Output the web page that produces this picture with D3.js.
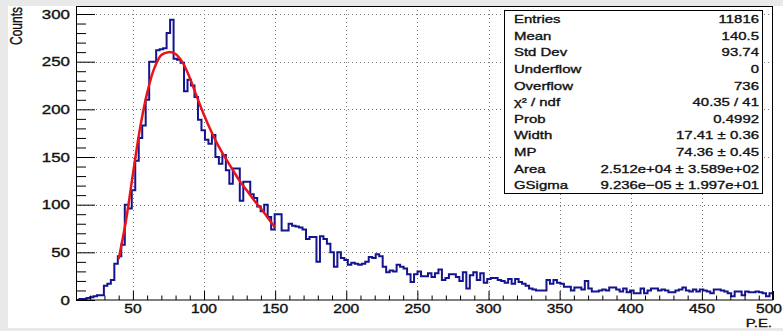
<!DOCTYPE html>
<html>
<head>
<meta charset="utf-8">
<script src="https://cdn.jsdelivr.net/npm/d3@7"></script>
<style>
body { margin: 0; background: #e9e9e9; }
svg { display: block; font-family: "Liberation Sans", Arial, sans-serif; }
</style>
</head>
<body>
<div id="chart"></div>
<script>
// histogram: 200 bins between 10 and 500 P.E.
var histMin = 10;
var histMax = 500;
var counts = [
    0, 1, 1, 2, 3, 4, 5, 5, 15, 17,
    21, 38, 46, 58, 100, 96, 115, 146, 170, 183,
    210, 250, 250, 262, 263, 264, 280, 294, 253, 252,
    249, 219, 231, 225, 213, 189, 178, 168, 164, 173,
    150, 143, 152, 136, 122, 138, 138, 104, 124, 124,
    111, 107, 98, 93, 100, 87, 74, 90, 90, 73,
    73, 80, 78, 77, 76, 74, 64, 66, 66, 40,
    67, 64, 59, 50, 35, 50, 44, 42, 37, 39,
    38, 37, 38, 40, 45, 44, 48, 46, 35, 29,
    31, 30, 37, 35, 33, 27, 19, 27, 30, 25,
    25, 28, 24, 28, 32, 21, 23, 27, 27, 24,
    20, 29, 12, 26, 29, 21, 28, 18, 22, 23,
    23, 21, 20, 18, 22, 17, 22, 19, 17, 15,
    12, 11, 10, 10, 10, 21, 17, 21, 18, 17,
    14, 14, 10, 13, 13, 11, 20, 12, 9, 9,
    10, 11, 10, 13, 13, 11, 9, 12, 8, 10,
    7, 7, 12, 7, 10, 12, 12, 10, 11, 10,
    8, 8, 10, 11, 13, 10, 9, 11, 9, 11,
    10, 9, 7, 11, 11, 10, 9, 7, 4, 9,
    9, 5, 9, 8, 8, 9, 8, 7, 4, 7
];

// fit curve (landau x gauss)
var fitX = [40, 45, 50, 55, 60, 65, 70, 75, 80, 85, 90, 95, 100, 105, 110, 115, 120, 125, 130, 135, 140, 145, 150];
var fitY = [43, 82, 132, 180, 217, 243, 257, 260, 258, 249, 233, 213, 194, 177, 162, 149, 137, 125, 115, 105, 96, 86, 76];

var xTicks = [50, 100, 150, 200, 250, 300, 350, 400, 450, 500];
var yTicks = [0, 50, 100, 150, 200, 250, 300];

var statNames = ["Entries", "Mean", "Std Dev", "Underflow", "Overflow", "\u03c7\u00b2 / ndf", "Prob", "Width", "MP", "Area", "GSigma"];
var statValues = ["11816", "140.5", "93.74", "0", "736", "40.35 / 41", "0.4992", "17.41 \u00b1 0.36", "74.36 \u00b1 0.45", "2.512e+04 \u00b1 3.589e+02", "9.236e\u221205 \u00b1 1.997e+01"];

var width = 783;
var height = 331;
var stretch = 1.3; // text in the picture is wider than tall

var svg = d3.select("#chart")
    .append("svg")
    .attr("width", width)
    .attr("height", height);

// white pad
svg.append("rect")
    .attr("x", 8).attr("y", 6)
    .attr("width", width - 8).attr("height", 322)
    .attr("fill", "white");

var scalex = d3.scaleLinear().domain([histMin, histMax]).range([76, 773]);
var scaley = d3.scaleLinear().domain([0, 308.4]).range([300, 6]);

function label(g, txt, px, py, size, anchor) {
    return g.append("text")
        .attr("transform", "translate(" + px + "," + py + ") scale(" + stretch + ",1)")
        .attr("text-anchor", anchor)
        .attr("font-size", size)
        .attr("fill", "#111")
        .attr("stroke", "#111")
        .attr("stroke-width", 0.35)
        .text(txt);
}

// grid
var grid = svg.append("g")
    .attr("stroke", "#7a7a7a")
    .attr("stroke-width", 1)
    .attr("stroke-dasharray", "1,3");
grid.selectAll(".gx").data(xTicks.filter(d => d < histMax))
    .enter().append("line")
    .attr("x1", d => Math.round(scalex(d)) + 0.5).attr("x2", d => Math.round(scalex(d)) + 0.5)
    .attr("y1", scaley.range()[1]).attr("y2", scaley.range()[0]);
grid.selectAll(".gy").data(yTicks.filter(d => d > 0))
    .enter().append("line")
    .attr("y1", d => Math.round(scaley(d)) + 0.5).attr("y2", d => Math.round(scaley(d)) + 0.5)
    .attr("x1", scalex.range()[0]).attr("x2", scalex.range()[1]);

// histogram outline
var bw = (histMax - histMin) / counts.length;
var pts = [[histMin, 0]];
counts.forEach((c, i) => {
    pts.push([histMin + i * bw, c]);
    pts.push([histMin + (i + 1) * bw, c]);
});
pts.push([histMax, 0]);

svg.append("clipPath").attr("id", "frameclip")
    .append("rect").attr("x", 76).attr("y", 6).attr("width", 697).attr("height", 294);

svg.append("path")
    .datum(pts)
    .attr("clip-path", "url(#frameclip)")
    .attr("fill", "none")
    .attr("stroke", "#14148e")
    .attr("stroke-width", 2)
    .attr("d", d3.line().x(d => scalex(d[0])).y(d => scaley(d[1])));

// fit
svg.append("path")
    .datum(fitX.map((v, i) => [v, fitY[i]]))
    .attr("fill", "none")
    .attr("stroke", "#e8141b")
    .attr("stroke-width", 2.5)
    .attr("d", d3.line().x(d => scalex(d[0])).y(d => scaley(d[1])).curve(d3.curveCatmullRom));

// axes ticks (inside the frame, like ROOT)
var yMinor = d3.range(0, 301, 10).filter(d => d % 50 != 0);
var xMinor = d3.range(20, 500, 10).filter(d => d % 50 != 0);

svg.append("g").attr("transform", "translate(76,0)")
    .call(d3.axisLeft(scaley).tickValues(yTicks).tickSize(-19).tickFormat(""))
    .call(g => g.select(".domain").remove());
svg.append("g").attr("transform", "translate(76,0)")
    .call(d3.axisLeft(scaley).tickValues(yMinor).tickSize(-10).tickFormat(""))
    .call(g => g.select(".domain").remove());
svg.append("g").attr("transform", "translate(0,300)")
    .call(d3.axisBottom(scalex).tickValues(xTicks).tickSize(-9).tickFormat(""))
    .call(g => g.select(".domain").remove());
svg.append("g").attr("transform", "translate(0,300)")
    .call(d3.axisBottom(scalex).tickValues(xMinor).tickSize(-4.5).tickFormat(""))
    .call(g => g.select(".domain").remove());

// frame
svg.append("rect")
    .attr("x", 76.5).attr("y", 6.5).attr("width", 696).attr("height", 293.5)
    .attr("fill", "none").attr("stroke", "#000").attr("stroke-width", 1);

// tick labels
var labs = svg.append("g");
yTicks.forEach(d => label(labs, d, 70, scaley(d) + 4.6, 13, "end"));
xTicks.forEach(d => {
    if (d == histMax) label(labs, d, 782, 313, 12, "end"); // keep last label inside the picture
    else label(labs, d, scalex(d), 313, 12, "middle");
});

// axis titles
label(labs, "P.E.", 772, 327, 11.5, "end");
svg.append("text")
    .attr("transform", "translate(22,7) scale(" + stretch + ",1) rotate(-90)")
    .attr("text-anchor", "end")
    .attr("font-size", 12)
    .attr("fill", "#111")
    .attr("stroke", "#111")
    .attr("stroke-width", 0.3)
    .text("Counts");

// stats box
var box = svg.append("g");
box.append("rect")
    .attr("x", 504.5).attr("y", 10.5).attr("width", 258).attr("height", 183)
    .attr("fill", "white").attr("stroke", "#000").attr("stroke-width", 1);
var rowH = 183 / statNames.length;
statNames.forEach((n, i) => {
    var ry = 10.5 + (i + 0.5) * rowH + 4.2;
    label(box, n, 514, ry, 11.5, "start");
    label(box, statValues[i], 759, ry, 11.5, "end");
});
</script>
</body>
</html>
